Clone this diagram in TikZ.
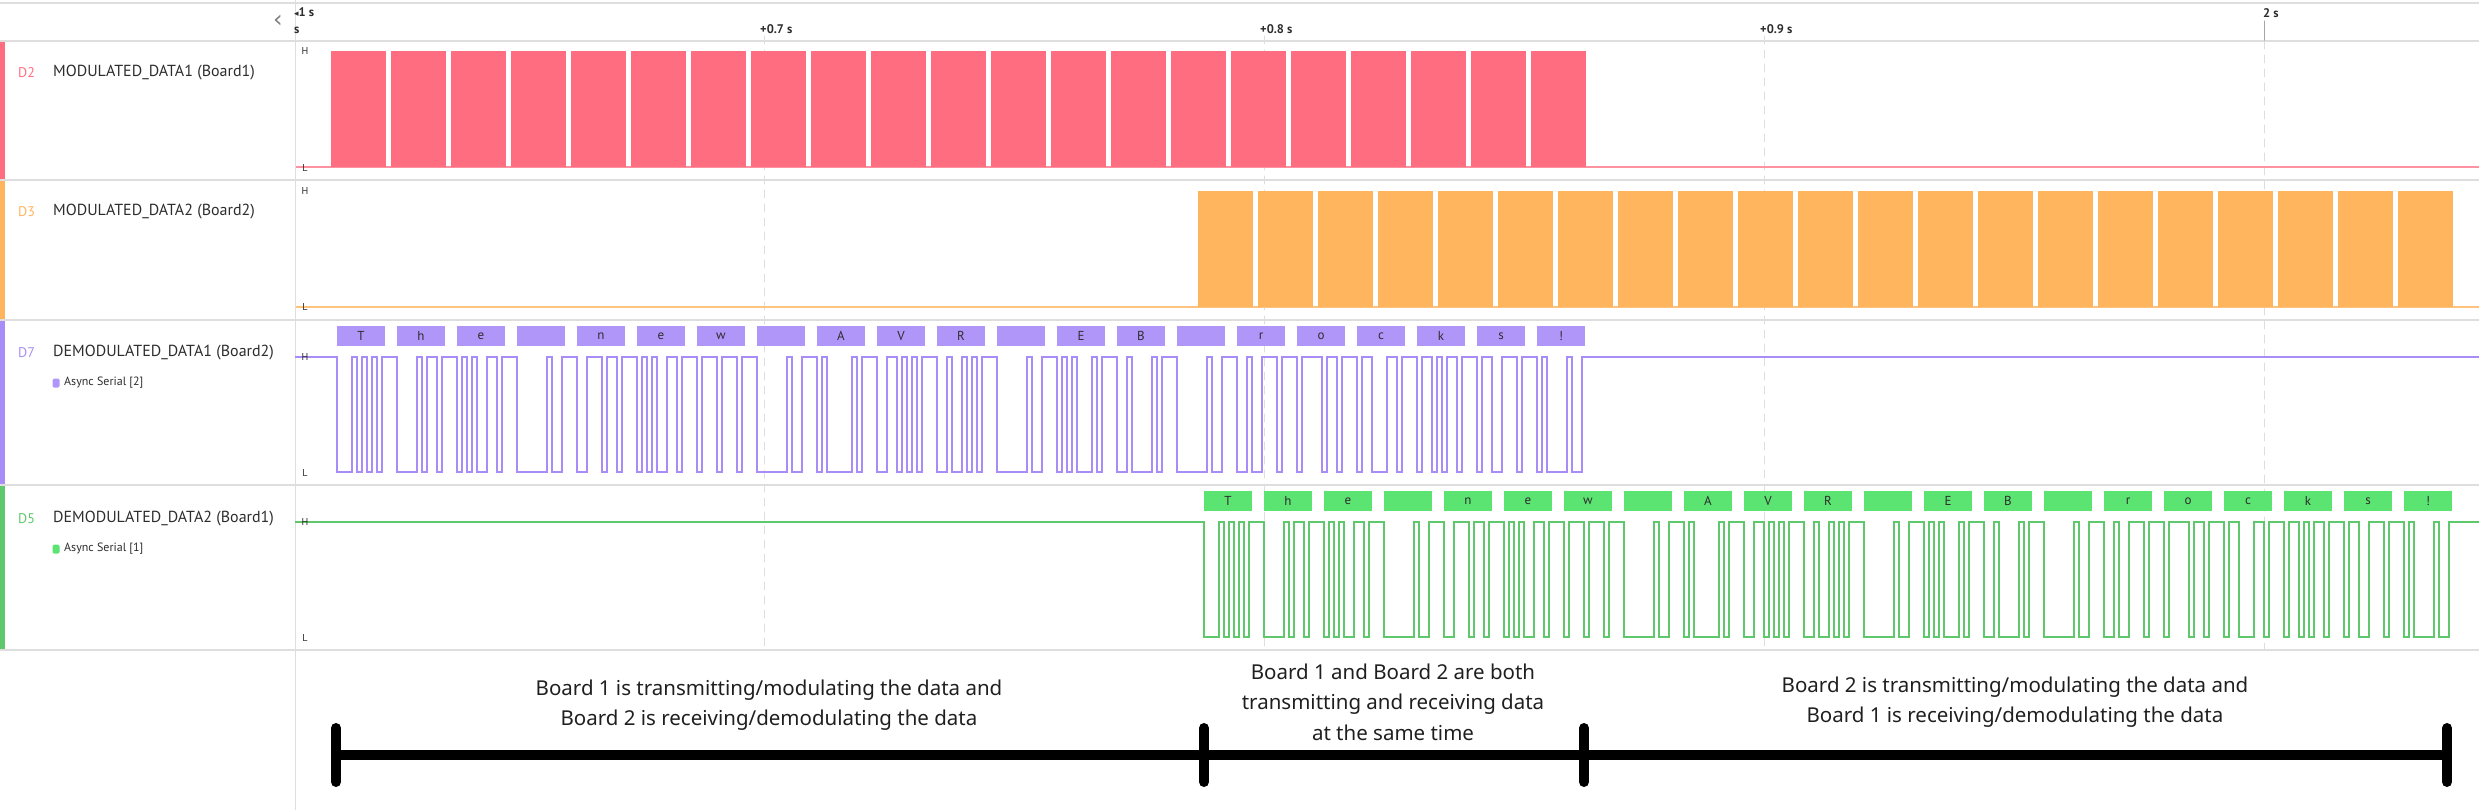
\documentclass[tikz,border=0pt]{standalone}
\usepackage{fontspec}
\setmainfont{PT Sans}
\newfontfamily\notefont{Noto Sans}
\newfontfamily\symbfont{DejaVu Sans}
\usetikzlibrary{positioning,calc}

\definecolor{pinkc}{RGB}{255,110,128}
\definecolor{orangec}{RGB}{255,180,94}
\definecolor{purplec}{RGB}{168,140,248}
\definecolor{purplebox}{RGB}{177,150,250}
\definecolor{greenc}{RGB}{96,200,108}
\definecolor{greenbox}{RGB}{92,228,114}
\definecolor{gridc}{RGB}{222,222,222}
\definecolor{textc}{RGB}{45,45,45}

\tikzset{
  rowsep/.style={draw=gridc, line width=2pt, line cap=butt},
  tickline/.style={draw=gridc, line width=1pt, dash pattern=on 8pt off 6pt},
  timelbl/.style={anchor=west, inner sep=0pt, text=textc, font=\bfseries\fontsize{12.5}{12.5}\selectfont},
  chid/.style={anchor=west, inner sep=0pt, font=\fontsize{14}{16}\selectfont},
  chlabel/.style={anchor=west, inner sep=0pt, text=textc, font=\fontsize{16}{18}\selectfont},
  sublbl/.style={anchor=west, inner sep=0pt, text=textc, font=\fontsize{12}{14}\selectfont},
  dotmark/.style={rectangle, rounded corners=1.5pt, minimum width=7pt, minimum height=9pt, inner sep=0pt},
  hlmark/.style={inner sep=0pt, text=textc, font=\fontsize{10}{10}\selectfont},
  bytebox/.style={minimum width=48pt, minimum height=20pt, inner sep=0pt, text=textc, font=\fontsize{13}{14}\selectfont},
  wave/.style={line width=1.3pt, line cap=rect},
  note/.style={align=center, text=black!88, font=\notefont\fontsize{20.5}{30.5}\selectfont},
  bracket/.style={line width=10pt, line cap=round},
}

\begin{document}
\begin{tikzpicture}[line cap=round,line join=round,x=1pt,y=-1pt]
\useasboundingbox (0,0) rectangle (2479,810);
\draw[gridc, line width=1.5pt] (0,3) -- (2479,3);
\draw[gridc, line width=1pt] (295,0) -- (295,810);
\foreach \yy in {41,180,320,485,650}
  \draw[rowsep] (0,\yy) -- (2479,\yy);

% time axis
\node[text=gray, font=\symbfont\fontsize{24}{24}\selectfont] (back) at (278,21) {‹};
\node[timelbl] (tk1) at (294,12) {{\symbfont\fontsize{9}{9}\selectfont ◂}1 s};
\node[timelbl] (tk0) at (294,30) {s};
\foreach \tx/\tl in {764/+0.7 s,1264/+0.8 s,1764/+0.9 s}{
  \draw[tickline] (\tx,36) -- (\tx,650);
  \node[timelbl] (tk\tx) at (\tx-4,29) {\tl};
}
\draw[black!35, line width=1pt] (2264,21) -- (2264,41);
\draw[tickline] (2264,41) -- (2264,650);
\node[timelbl] (tk2) at (2263,13) {2 s};

% channel bars and names
\fill[pinkc] (0,42) rectangle (5,179);
\fill[orangec] (0,181) rectangle (5,319);
\fill[purplec] (0,321) rectangle (5,484);
\fill[greenc] (0,486) rectangle (5,649);
\node[chid, text=pinkc] (d2) at (18,73) {D2};
\node[chlabel] (lbl2) at (53,73) {MODULATED\_DATA1 (Board1)};
\node[chid, text=orangec] (d3) at (18,212) {D3};
\node[chlabel] (lbl3) at (53,212) {MODULATED\_DATA2 (Board2)};
\node[chid, text=purplec] (d7) at (18,353) {D7};
\node[chlabel] (lbl7) at (53,353) {DEMODULATED\_DATA1 (Board2)};
\node[dotmark, fill=purplebox] (dot7) at (56,383) {};
\node[sublbl, right=8pt of dot7.center] (as7) {Async Serial [2]};
\node[chid, text=greenc] (d5) at (18,519) {D5};
\node[chlabel] (lbl5) at (53,519) {DEMODULATED\_DATA2 (Board1)};
\node[dotmark, fill=greenbox] (dot5) at (56,549) {};
\node[sublbl, right=8pt of dot5.center] (as5) {Async Serial [1]};

% modulated bursts
\draw[pinkc!75, line width=2pt, line cap=butt] (296,167) -- (2479,167);
\draw[orangec!80, line width=2pt, line cap=butt] (296,307) -- (2479,307);
\foreach \n in {0,...,20}{
  \fill[pinkc] (331+60*\n,51) rectangle ++(55,116);
  \fill[orangec] (1198+60*\n,191) rectangle ++(55,116);
}

% demodulated serial data, 5pt per bit, 60pt per frame
\foreach \xs/\yh/\yl/\wc/\bc/\yb/\nm in {337/357/472/purplec/purplebox/336/p,1204/522/637/greenc/greenbox/501/g}{
  \draw[wave,\wc] (296,\yh) -- (\xs,\yh);
  \draw[wave,\wc] (\xs+1260,\yh) -- (2479,\yh);
  \foreach \code/\chr [count=\n from 0] in {84/T,104/h,101/e,32/{},110/n,101/e,119/w,32/{},65/A,86/V,82/R,32/{},69/E,66/B,32/{},114/r,111/o,99/c,107/k,115/s,33/!}{
    \node[bytebox, fill=\bc] (\nm\n) at (\xs+24+60*\n,\yb) {\chr};
    \foreach \bit in {0,...,9}{
      \pgfmathtruncatemacro{\cur}{\bit==0 ? 0 : (\bit==9 ? 1 : mod(floor(\code/2^(\bit-1)),2))}
      \pgfmathtruncatemacro{\prv}{\bit==0 ? 1 : (\bit==1 ? 0 : mod(floor(\code/2^(\bit-2)),2))}
      \pgfmathsetmacro{\xa}{\xs+60*\n+5*\bit}
      \pgfmathsetmacro{\ya}{\cur==1 ? \yh : \yl}
      \pgfmathsetmacro{\wd}{\bit==9 ? 15 : 5}
      \draw[wave,\wc] (\xa,\ya) -- ++(\wd,0);
      \ifnum\cur=\prv\else\draw[wave,\wc] (\xa,\yh) -- (\xa,\yl);\fi
    }
  }
}

% H / L marks
\foreach \yh/\yl in {51/168,191/307,357/473,522/638}{
  \node[hlmark] at (305,\yh) {H};
  \node[hlmark] at (305,\yl) {L};
}

% phases
\coordinate (b0) at (336,755);
\coordinate (b1) at (1204,755);
\coordinate (b2) at (1584,755);
\coordinate (b3) at (2447,755);
\draw[bracket] (b0) -- (b3);
\foreach \b in {b0,b1,b2,b3}
  \draw[bracket] ([yshift=27pt]\b) -- ([yshift=-27pt]\b);
\node[note] (ph1) at (769,705) {Board 1 is transmitting/modulating the data and\\Board 2 is receiving/demodulating the data};
\node[note] (ph2) at (1393,702) {Board 1 and Board 2 are both\\transmitting and receiving data\\at the same time};
\node[note] (ph3) at (2015,702) {Board 2 is transmitting/modulating the data and\\Board 1 is receiving/demodulating the data};
\end{tikzpicture}
\end{document}
